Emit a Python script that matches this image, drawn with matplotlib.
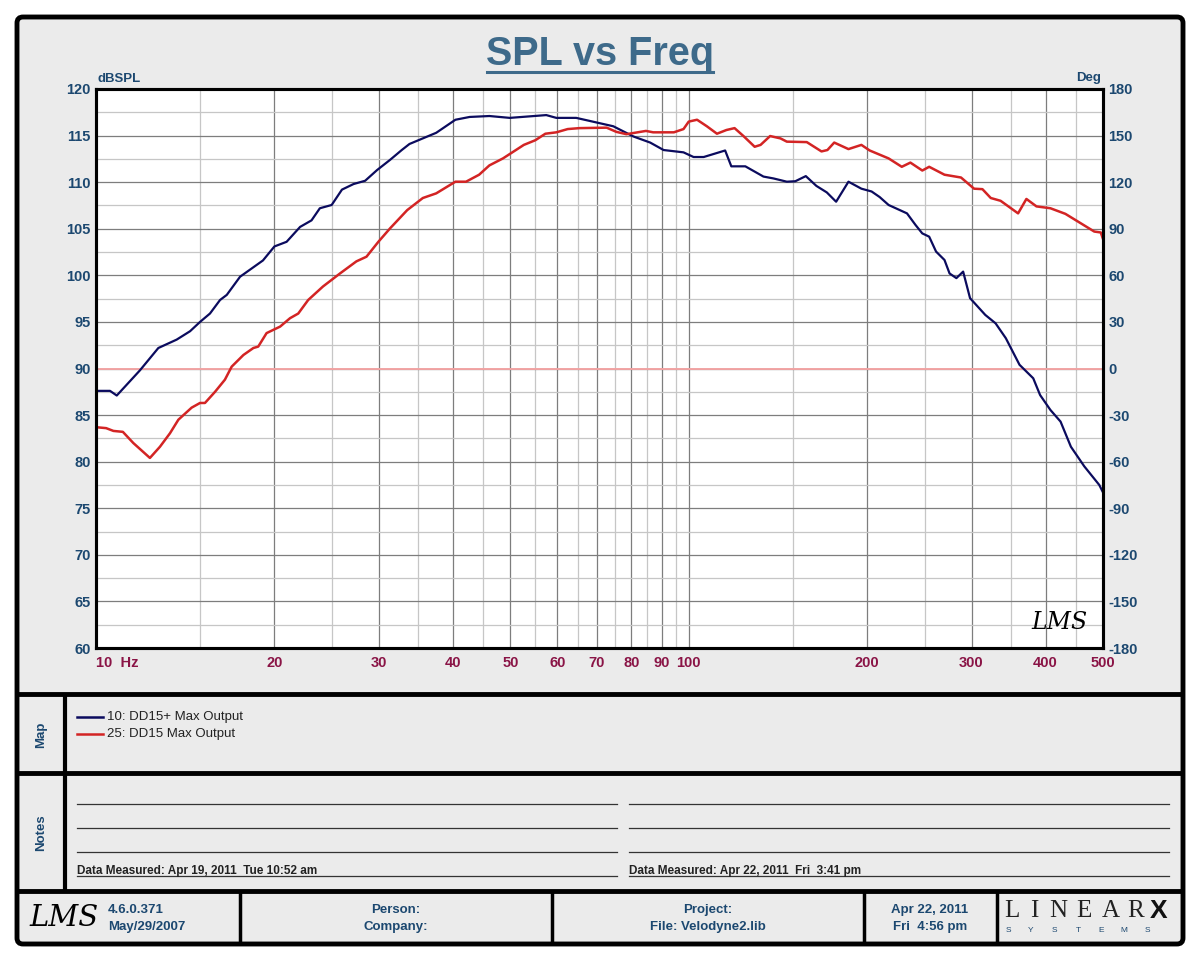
import matplotlib
matplotlib.use("Agg")
import matplotlib.pyplot as plt
from matplotlib.patches import FancyBboxPatch
from matplotlib.ticker import FixedLocator, NullFormatter

plt.rcParams["font.family"] = ["Liberation Sans", "DejaVu Sans"]
plt.rcParams["axes.unicode_minus"] = False

# ---- data ----
FREQ_PLUS = [10.0, 10.56, 10.84, 11.86, 12.74, 13.68, 14.41, 14.98, 15.57, 16.19,
             16.62, 17.5, 19.13, 20.0, 20.97, 22.1, 23.1, 23.86, 24.98, 26.0,
             27.2, 28.45, 29.8, 31.35, 32.8, 33.8, 35.6, 37.5, 40.4, 42.7,
             46.1, 49.9, 57.5, 59.8, 64.6, 74.6, 80.7, 86.1, 90.7, 98.0,
             101.9, 106.0, 115.2, 118.0, 124.6, 133.7, 139.0, 146.4, 151.3, 157.6,
             164.2, 171.0, 177.3, 186.0, 195.6, 203.5, 210.0, 217.4, 233.5, 241.4,
             247.8, 254.5, 261.4, 270.1, 275.5, 282.9, 290.4, 298.3, 316.5, 329.4,
             342.8, 361.5, 381.3, 391.6, 407.6, 424.0, 441.4, 464.9, 492.8, 500.0]
SPL_PLUS = [87.6, 87.6, 87.1, 89.8, 92.2, 93.1, 94.0, 95.0, 95.9, 97.35,
            97.9, 99.85, 101.6, 103.1, 103.6, 105.2, 105.9, 107.2, 107.55, 109.2,
            109.8, 110.15, 111.3, 112.4, 113.45, 114.1, 114.7, 115.3, 116.7, 117.0,
            117.1, 116.9, 117.2, 116.9, 116.9, 116.0, 114.9, 114.25, 113.45, 113.2,
            112.7, 112.7, 113.4, 111.7, 111.7, 110.6, 110.4, 110.05, 110.1, 110.65,
            109.6, 108.9, 107.9, 110.05, 109.3, 109.0, 108.4, 107.55, 106.65, 105.4,
            104.5, 104.15, 102.55, 101.65, 100.2, 99.7, 100.4, 97.55, 95.75, 94.85,
            93.25, 90.4, 88.95, 87.15, 85.55, 84.3, 81.6, 79.5, 77.5, 76.7]

FREQ_STD = [10.0, 10.4, 10.7, 11.1, 11.56, 12.33, 12.82, 13.33, 13.77, 14.5,
            14.98, 15.27, 15.88, 16.5, 16.94, 17.73, 18.43, 18.78, 19.4, 20.45,
            21.25, 21.94, 22.8, 24.15, 25.8, 27.5, 28.6, 29.95, 31.35, 33.5,
            35.6, 37.5, 40.4, 42.1, 44.3, 46.1, 48.6, 52.7, 55.1, 57.3,
            59.8, 62.5, 65.4, 72.7, 75.5, 78.5, 84.7, 87.1, 94.4, 98.0,
            100.0, 103.3, 107.3, 111.6, 115.8, 119.5, 123.7, 129.2, 132.2, 137.2,
            142.8, 146.4, 158.2, 167.5, 171.4, 176.0, 186.0, 195.6, 202.0, 217.4,
            228.8, 236.6, 247.8, 254.5, 270.1, 288.0, 303.0, 313.0, 323.3, 335.9,
            359.5, 371.3, 386.1, 407.6, 432.0, 458.3, 483.3, 495.7, 500.0]
SPL_STD = [83.7, 83.6, 83.3, 83.2, 82.0, 80.4, 81.6, 83.05, 84.5, 85.8,
           86.3, 86.3, 87.5, 88.8, 90.2, 91.45, 92.2, 92.35, 93.8, 94.5,
           95.4, 95.9, 97.35, 98.8, 100.2, 101.5, 102.0, 103.6, 105.05, 107.0,
           108.3, 108.8, 110.05, 110.05, 110.8, 111.8, 112.55, 114.0, 114.5, 115.2,
           115.35, 115.7, 115.8, 115.85, 115.4, 115.15, 115.5, 115.35, 115.35, 115.7,
           116.5, 116.7, 116.0, 115.2, 115.6, 115.8, 114.95, 113.8, 114.0, 114.95,
           114.7, 114.35, 114.3, 113.3, 113.45, 114.25, 113.55, 114.0, 113.4, 112.55,
           111.65, 112.1, 111.25, 111.65, 110.8, 110.5, 109.3, 109.25, 108.3, 108.0,
           106.65, 108.2, 107.4, 107.2, 106.6, 105.6, 104.7, 104.6, 103.9]

LEGEND_NAMES = ["10: DD15+ Max Output", "25: DD15 Max Output"]

X_TICKS = [10, 20, 30, 40, 50, 60, 70, 80, 90, 100, 200, 300, 400, 500]
X_LABELS = ["10  Hz", "20", "30", "40", "50", "60", "70", "80", "90", "100",
            "200", "300", "400", "500"]
X_MINOR = [15, 25, 35, 45, 55, 65, 75, 85, 95, 150, 250, 350, 450]
Y_TICKS = list(range(60, 121, 5))
Y_MINOR = [62.5 + 5 * i for i in range(12)]
DEG_TICKS = list(range(-180, 181, 30))

NOTES_LEFT = "Data Measured: Apr 19, 2011  Tue 10:52 am"
NOTES_RIGHT = "Data Measured: Apr 22, 2011  Fri  3:41 pm"

NAVY = "#0b0b5e"
RED = "#d32424"
LABEL_BLUE = "#1c4870"
TICK_RED = "#8a1446"
PANEL = "#ebebeb"
TITLE_BLUE = "#3e6a8a"

W, H = 1200, 960


def px_rect(left, top, right, bottom):
    return [left / W, 1 - bottom / H, (right - left) / W, (bottom - top) / H]


fig = plt.figure(figsize=(12, 9.6), dpi=100)
fig.patch.set_facecolor("white")

# background layer in pixel coordinates
bg = fig.add_axes([0, 0, 1, 1])
bg.set_xlim(0, W)
bg.set_ylim(H, 0)
bg.axis("off")

frame = FancyBboxPatch((17, 17), 1166, 927, boxstyle="round,pad=0,rounding_size=6",
                       fc=PANEL, ec="black", lw=3.5)
bg.add_patch(frame)
for yy in (694, 773, 891):
    bg.plot([17, 1183], [yy, yy], color="black", lw=3.5, solid_capstyle="butt")
bg.plot([65, 65], [694, 891], color="black", lw=3, solid_capstyle="butt")
for xx in (240, 552, 864, 997):
    bg.plot([xx, xx], [891, 944], color="black", lw=2.5, solid_capstyle="butt")

# title
title = bg.text(600, 54, "SPL vs Freq", ha="center", va="center", fontsize=28.5,
                fontweight="bold", color=TITLE_BLUE)
fig.canvas.draw()
bb = title.get_window_extent().transformed(bg.transData.inverted())
bg.plot([bb.x0 + 1, bb.x1 - 1], [72, 72], color=TITLE_BLUE, lw=2.2)

bg.text(97, 79, "dBSPL", ha="left", va="center", fontsize=9.5, fontweight="bold",
        color=LABEL_BLUE)
bg.text(1101, 78, "Deg", ha="right", va="center", fontsize=9.5, fontweight="bold",
        color=LABEL_BLUE)

# main plot
ax = fig.add_axes(px_rect(96, 89, 1103, 648))
ax.set_facecolor("white")
ax.set_xscale("log")
ax.set_xlim(10, 500)
ax.set_ylim(60, 120)
ax.xaxis.set_major_locator(FixedLocator(X_TICKS))
ax.xaxis.set_minor_locator(FixedLocator(X_MINOR))
ax.xaxis.set_minor_formatter(NullFormatter())
ax.set_xticklabels(X_LABELS)
ax.yaxis.set_major_locator(FixedLocator(Y_TICKS))
ax.yaxis.set_minor_locator(FixedLocator(Y_MINOR))
ax.grid(which="major", color="#7d7d7d", lw=0.9)
ax.grid(which="minor", color="#c6c6c6", lw=0.9)
ax.set_axisbelow(True)
ax.tick_params(which="both", length=0)
ax.tick_params(axis="x", pad=6, labelsize=10.5, labelcolor=TICK_RED)
ax.tick_params(axis="y", pad=4, labelsize=10.5, labelcolor=LABEL_BLUE)
for lbl in ax.get_xticklabels() + ax.get_yticklabels():
    lbl.set_fontweight("bold")
ax.get_xticklabels()[0].set_ha("left")

ax.axhline(90, color="#f2a4a4", lw=1.4, zorder=2)
ax.plot(FREQ_PLUS, SPL_PLUS, color=NAVY, lw=1.6, zorder=3)
ax.plot(FREQ_STD, SPL_STD, color=RED, lw=1.8, zorder=3)

ax.text(0.985, 0.025, "LMS", transform=ax.transAxes, ha="right", va="bottom",
        fontsize=17, style="italic", family="DejaVu Serif", color="black")

ax2 = ax.twinx()
ax2.set_ylim(-180, 180)
ax2.yaxis.set_major_locator(FixedLocator(DEG_TICKS))
ax2.tick_params(length=0, pad=4, labelsize=10.5, labelcolor=LABEL_BLUE)
for lbl in ax2.get_yticklabels():
    lbl.set_fontweight("bold")

for a in (ax, ax2):
    for sp in a.spines.values():
        sp.set_linewidth(2.2)
        sp.set_color("black")

# map panel
bg.text(41, 735, "Map", rotation=90, ha="center", va="center", fontsize=9.5,
        fontweight="bold", color=LABEL_BLUE)
for i, (name, col) in enumerate(zip(LEGEND_NAMES, [NAVY, RED])):
    yy = 717 + 17 * i
    bg.plot([77, 103], [yy, yy], color=col, lw=1.8)
    bg.text(107, yy, name, ha="left", va="center", fontsize=9.5, color="#222222")

# notes panel
bg.text(41, 833, "Notes", rotation=90, ha="center", va="center", fontsize=9.5,
        fontweight="bold", color=LABEL_BLUE)
for x0, x1, note in ((77, 617, NOTES_LEFT), (629, 1169, NOTES_RIGHT)):
    for yy in (804, 828, 852, 876):
        bg.plot([x0, x1], [yy, yy], color="#333333", lw=0.9)
    bg.text(x0, 874, note, ha="left", va="baseline", fontsize=8.5,
            fontweight="bold", color="#222222")

# footer
bg.text(64, 918, "LMS", ha="center", va="center", fontsize=21, style="italic",
        family="DejaVu Serif", color="black")
foot_kw = dict(fontsize=9.5, fontweight="bold", color=LABEL_BLUE, va="center")
bg.text(108, 910, "4.6.0.371", ha="left", **foot_kw)
bg.text(108, 927, "May/29/2007", ha="left", **foot_kw)
bg.text(396, 910, "Person:", ha="center", **foot_kw)
bg.text(396, 927, "Company:", ha="center", **foot_kw)
bg.text(708, 910, "Project:", ha="center", **foot_kw)
bg.text(708, 927, "File: Velodyne2.lib", ha="center", **foot_kw)
bg.text(930, 910, "Apr 22, 2011", ha="center", **foot_kw)
bg.text(930, 927, "Fri  4:56 pm", ha="center", **foot_kw)

for ch, xx in zip("LINEAR", (1012, 1034, 1058, 1084, 1111, 1136)):
    bg.text(xx, 911, ch, ha="center", va="center", fontsize=18,
            family="Liberation Serif", color="#222222")
bg.text(1159, 911, "X", ha="center", va="center", fontsize=19, fontweight="bold",
        family="Liberation Sans", color="#111111")
for ch, xx in zip("SYSTEMS", (1008, 1031, 1054, 1078, 1101, 1124, 1147)):
    bg.text(xx, 931, ch, ha="center", va="center", fontsize=6,
            color=LABEL_BLUE)

fig.savefig("out.png", dpi=100, facecolor="white")
